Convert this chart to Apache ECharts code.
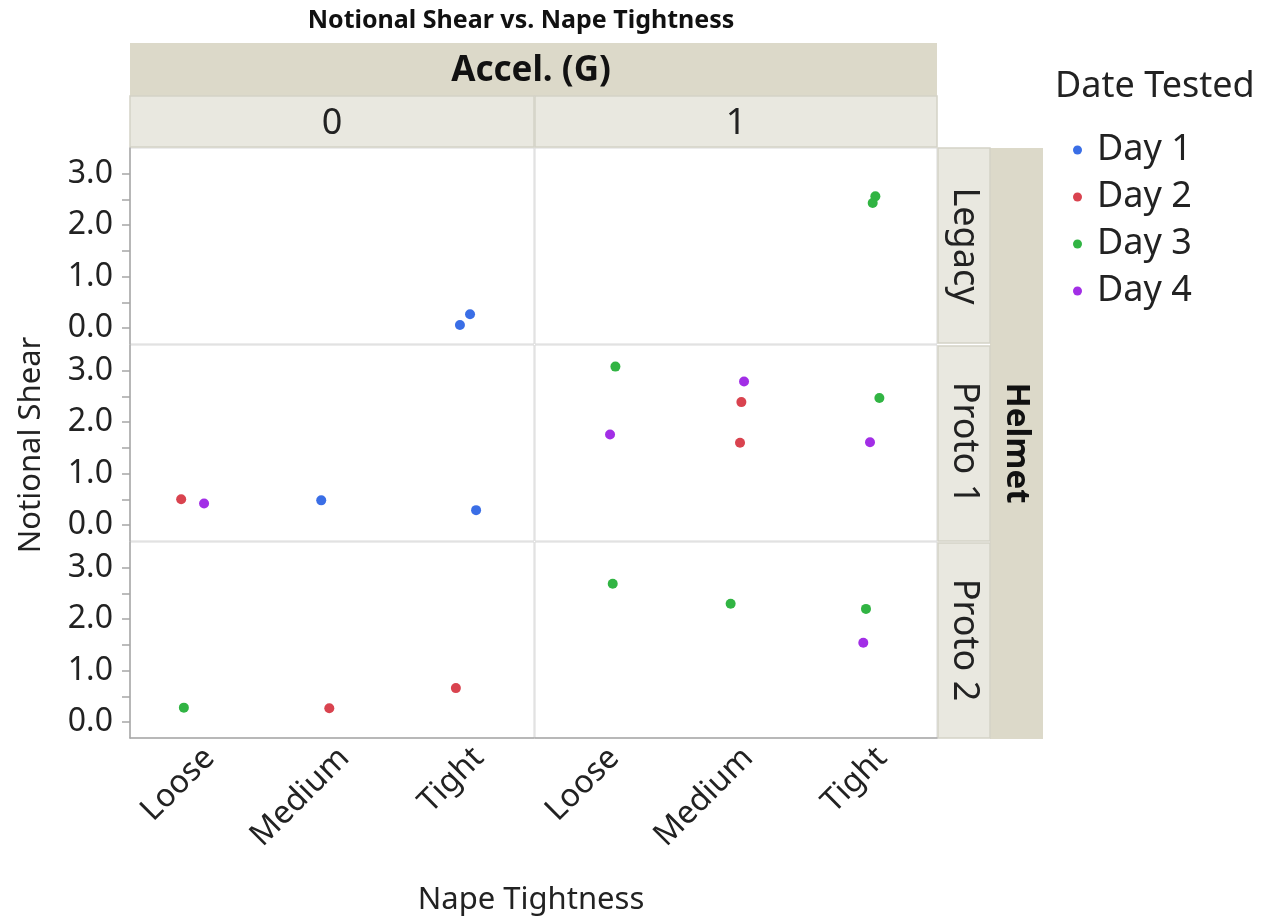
<!DOCTYPE html>
<html>
<head>
<meta charset="utf-8">
<script src="https://cdn.jsdelivr.net/npm/echarts@6/dist/echarts.min.js"></script>
<style>
html,body{margin:0;padding:0;background:#fff;}
#chart{width:1272px;height:924px;}
</style>
</head>
<body>
<div id="chart"></div>
<script>
// ---- data ----
const napeCategories = ['Loose', 'Medium', 'Tight'];
const accelLevels = ['0', '1'];
const helmets = ['Legacy', 'Proto 1', 'Proto 2'];
const days = ['Day 1', 'Day 2', 'Day 3', 'Day 4'];
const dayColors = ['#3a6ee6', '#d9434f', '#31b443', '#a22ee6'];
const yTicks = [0, 1, 2, 3];
const yMinorTicks = [0, 0.5, 1, 1.5, 2, 2.5, 3];

// observations (parallel arrays)
const obsHelmet = ['Legacy','Legacy','Legacy','Legacy',
  'Proto 1','Proto 1','Proto 1','Proto 1','Proto 1','Proto 1','Proto 1','Proto 1','Proto 1','Proto 1','Proto 1',
  'Proto 2','Proto 2','Proto 2','Proto 2','Proto 2','Proto 2','Proto 2'];
const obsAccel = ['0','0','1','1',
  '0','0','0','0','1','1','1','1','1','1','1',
  '0','0','0','1','1','1','1'];
const obsNape = ['Tight','Tight','Tight','Tight',
  'Loose','Loose','Medium','Tight','Loose','Loose','Medium','Medium','Medium','Tight','Tight',
  'Loose','Medium','Tight','Loose','Medium','Tight','Tight'];
const obsDay = ['Day 1','Day 1','Day 3','Day 3',
  'Day 2','Day 4','Day 1','Day 1','Day 3','Day 4','Day 4','Day 2','Day 2','Day 3','Day 4',
  'Day 3','Day 2','Day 2','Day 3','Day 3','Day 3','Day 4'];
const obsShear = [0.06, 0.27, 2.56, 2.43,
  0.50, 0.42, 0.48, 0.29, 3.08, 1.76, 2.79, 2.39, 1.60, 2.47, 1.61,
  0.28, 0.27, 0.66, 2.69, 2.30, 2.20, 1.54];
const obsJitter = [-0.05, 0.025, 0.04, 0.02,
  -0.12, 0.05, -0.08, 0.07, 0.10, 0.06, 0.06, 0.04, 0.03, 0.07, 0.00,
  -0.10, -0.02, -0.08, 0.08, -0.04, -0.03, -0.05];

// ---- layout ----
const FONT = '"Noto Sans", "Open Sans", sans-serif';
const colLeft = [130, 535];
const colWidth = [404, 402];
const rowTop = [148, 345, 542];
const rowHeight = 196;
const Y_MIN = -0.31, Y_MAX = 3.5;
const LABEL_SHIFT = 0.09; // rotated category labels sit slightly right of the category centre

const grids = [], xAxes = [], yAxes = [], series = [];
helmets.forEach((h, r) => {
  accelLevels.forEach((a, c) => {
    const gi = grids.length;
    const bottomRow = r === helmets.length - 1;
    const leftCol = c === 0;
    grids.push({left: colLeft[c], top: rowTop[r], width: colWidth[c], height: rowHeight,
      show: true, borderColor: '#d9d9d9', borderWidth: 1, backgroundColor: '#fff'});
    xAxes.push({
      gridIndex: gi, type: 'value', min: -0.5, max: 2.5,
      axisLine: {show: bottomRow, onZero: false, lineStyle: {color: '#a6a6a6', width: 1.5}},
      axisTick: {show: false},
      splitLine: {show: false},
      axisLabel: {show: bottomRow, customValues: napeCategories.map((_, i) => i + LABEL_SHIFT), rotate: 45, margin: 15,
        formatter: v => napeCategories[Math.round(v)] || '',
        fontFamily: FONT, fontSize: 32, color: '#222'}
    });
    yAxes.push({
      gridIndex: gi, type: 'value', min: Y_MIN, max: Y_MAX,
      axisLine: {show: leftCol, onZero: false, lineStyle: {color: '#a6a6a6', width: 1.5}},
      axisTick: {show: leftCol, customValues: yMinorTicks, length: 8, lineStyle: {color: '#a6a6a6', width: 1.5}},
      splitLine: {show: false},
      axisLabel: {show: leftCol, customValues: yTicks, margin: 17,
        formatter: v => v.toFixed(1), fontFamily: FONT, fontSize: 32, color: '#222'}
    });
    days.forEach((d, di) => {
      const pts = [];
      for (let i = 0; i < obsShear.length; i++) {
        if (obsHelmet[i] === h && obsAccel[i] === a && obsDay[i] === d) {
          pts.push([napeCategories.indexOf(obsNape[i]) + obsJitter[i], obsShear[i]]);
        }
      }
      series.push({type: 'scatter', name: d, xAxisIndex: gi, yAxisIndex: gi,
        data: pts, symbolSize: 10, itemStyle: {color: dayColors[di], opacity: 1},
        emphasis: {disabled: true}, animation: false});
    });
  });
});

// header / strip graphics
const graphics = [];
const darkStrip = '#dcd9c9', lightStrip = '#e9e8e0', stripBorder = '#d3d2c6';
graphics.push({type: 'rect', shape: {x: 130, y: 43, width: 807, height: 53}, style: {fill: darkStrip}});
accelLevels.forEach((a, c) => {
  graphics.push({type: 'rect', shape: {x: colLeft[c], y: 96, width: colWidth[c], height: 51},
    style: {fill: lightStrip, stroke: stripBorder, lineWidth: 1.5}});
  graphics.push({type: 'text', x: colLeft[c] + colWidth[c] / 2, y: 124,
    style: {text: a, fontFamily: FONT, fontSize: 36, fill: '#222', align: 'center', verticalAlign: 'middle'}});
});
graphics.push({type: 'text', x: 531, y: 71,
  style: {text: 'Accel. (G)', fontFamily: FONT, fontSize: 35, fontWeight: 'bold', fill: '#111', align: 'center', verticalAlign: 'middle'}});
graphics.push({type: 'rect', shape: {x: 990, y: 148, width: 53, height: 591}, style: {fill: darkStrip}});
helmets.forEach((h, r) => {
  graphics.push({type: 'rect', shape: {x: 938, y: rowTop[r] + (r ? 1 : 0), width: 52, height: rowHeight - 1},
    style: {fill: lightStrip, stroke: stripBorder, lineWidth: 1.5}});
  graphics.push({type: 'text', x: 964, y: rowTop[r] + rowHeight / 2, rotation: -Math.PI / 2,
    style: {text: h, fontFamily: FONT, fontSize: 36, fill: '#222', align: 'center', verticalAlign: 'middle'}});
});
graphics.push({type: 'text', x: 1016, y: 443, rotation: -Math.PI / 2,
  style: {text: 'Helmet', fontFamily: FONT, fontSize: 33, fontWeight: 'bold', fill: '#111', align: 'center', verticalAlign: 'middle'}});
graphics.push({type: 'text', x: 521, y: 21,
  style: {text: 'Notional Shear vs. Nape Tightness', fontFamily: FONT, fontSize: 25, fontWeight: 'bold', fill: '#111', align: 'center', verticalAlign: 'middle'}});
graphics.push({type: 'text', x: 31, y: 445, rotation: Math.PI / 2,
  style: {text: 'Notional Shear', fontFamily: FONT, fontSize: 31, fill: '#222', align: 'center', verticalAlign: 'middle'}});
graphics.push({type: 'text', x: 531, y: 900,
  style: {text: 'Nape Tightness', fontFamily: FONT, fontSize: 31, fill: '#222', align: 'center', verticalAlign: 'middle'}});
graphics.push({type: 'text', x: 1055, y: 87,
  style: {text: 'Date Tested', fontFamily: FONT, fontSize: 36, fill: '#222', align: 'left', verticalAlign: 'middle'}});

const chart = echarts.init(document.getElementById('chart'), null, {renderer: 'canvas'});
chart.setOption({
  animation: false,
  backgroundColor: '#fff',
  grid: grids,
  xAxis: xAxes,
  yAxis: yAxes,
  series: series,
  legend: {
    data: days.map((d, i) => ({name: d, icon: 'circle', itemStyle: {color: dayColors[i]}})),
    orient: 'vertical', left: 1068, top: 127,
    itemWidth: 9, itemHeight: 9, itemGap: 11,
    selectedMode: false,
    textStyle: {fontFamily: FONT, fontSize: 36, color: '#222', padding: [0, 0, 0, 10]}
  },
  graphic: graphics
});
</script>
</body>
</html>
